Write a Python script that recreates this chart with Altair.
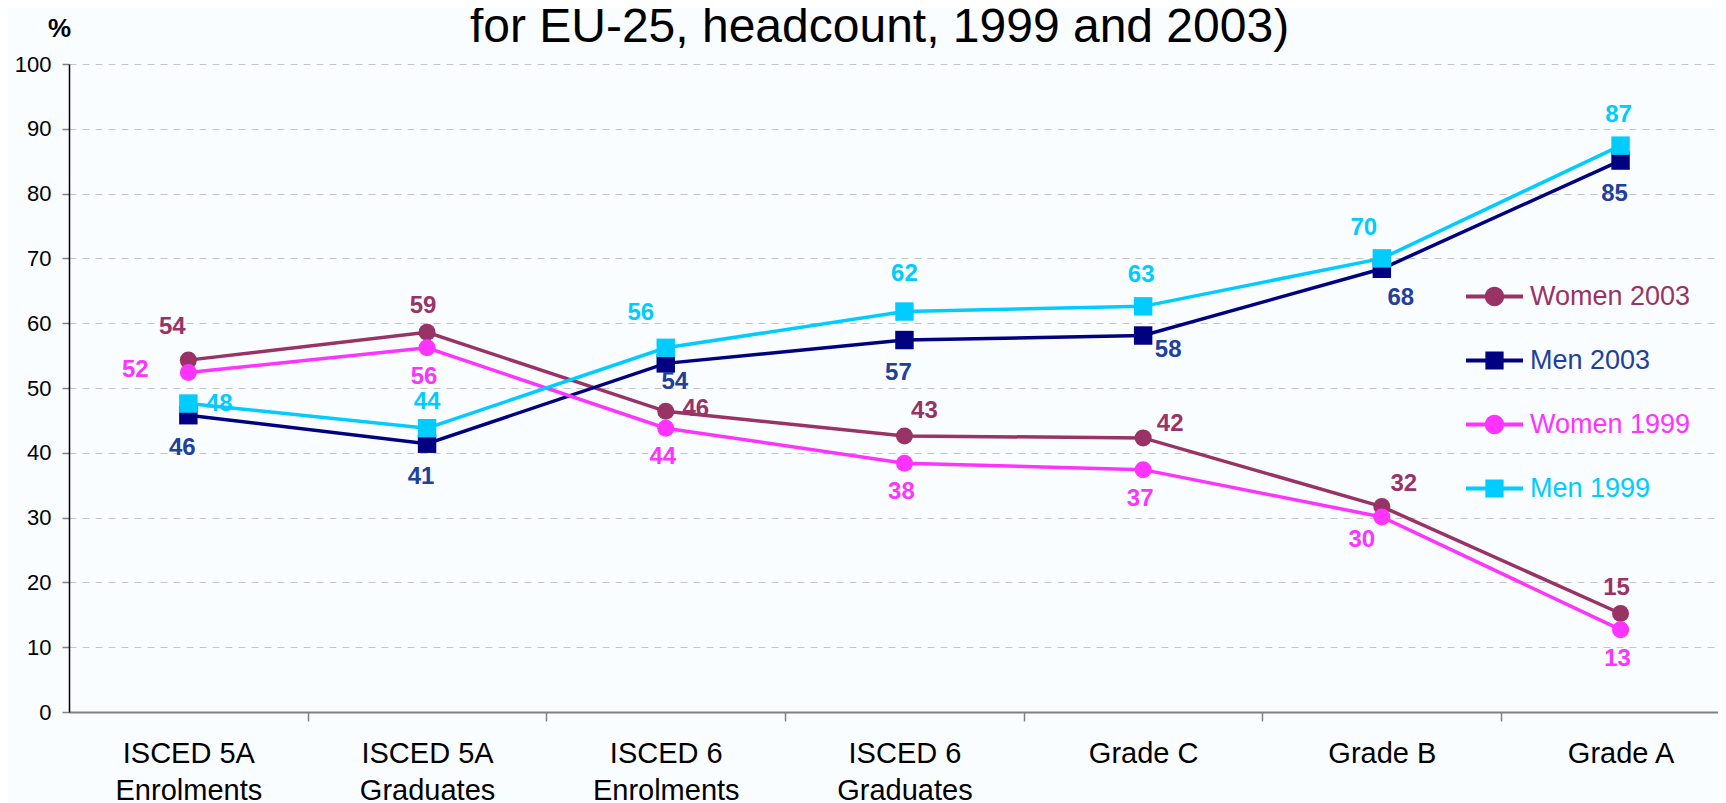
import altair as alt
import pandas as pd

# ---------------- data ----------------
categories = ["ISCED 5A\nEnrolments", "ISCED 5A\nGraduates", "ISCED 6\nEnrolments",
              "ISCED 6\nGraduates", "Grade C", "Grade B", "Grade A"]
series_names = ["Women 2003", "Men 2003", "Women 1999", "Men 1999"]
women_2003 = [54.3, 58.6, 46.4, 42.6, 42.3, 31.7, 15.2]
men_2003 = [45.8, 41.4, 53.8, 57.4, 58.1, 68.4, 85.1]
women_1999 = [52.4, 56.2, 43.8, 38.4, 37.4, 30.1, 12.7]
men_1999 = [47.6, 43.8, 56.2, 61.8, 62.6, 70.0, 87.4]
y_ticks = [0, 10, 20, 30, 40, 50, 60, 70, 80, 90, 100]

values_by_series = {
    "Women 2003": women_2003,
    "Men 2003": men_2003,
    "Women 1999": women_1999,
    "Men 1999": men_1999,
}
rows = []
for s in series_names:
    for i, (c, v) in enumerate(zip(categories, values_by_series[s])):
        rows.append({"category": c, "idx": i, "series": s, "value": v})
df = pd.DataFrame(rows)

# ---------------- style ----------------
FONT = "Liberation Sans"
line_colors = {"Women 2003": "#993366", "Men 2003": "#000080",
               "Women 1999": "#FF33FF", "Men 1999": "#00CCFF"}
text_colors = {"Women 2003": "#993366", "Men 2003": "#22409A",
               "Women 1999": "#FF33FF", "Men 1999": "#00CCFF"}
marker = {"Women 2003": "circle", "Men 2003": "square",
          "Women 1999": "circle", "Men 1999": "square"}

# legend symbols: a line with a marker in the middle (unit box -1..1)
LINE_PATH = "M-1,-0.07L1,-0.07L1,0.07L-1,0.07Z"
CIRCLE_PATH = LINE_PATH + "M-0.34,0A0.34,0.34,0,1,1,0.34,0A0.34,0.34,0,1,1,-0.34,0Z"
SQUARE_PATH = LINE_PATH + "M-0.32,-0.32L0.32,-0.32L0.32,0.32L-0.32,0.32Z"
legend_paths = [CIRCLE_PATH if marker[s] == "circle" else SQUARE_PATH for s in series_names]

W, H = 1649, 648
n = len(categories)
step = 238.7
pad = (W / step - (n - 1)) / 2
align = (step / 2) / (W - (n - 1) * step)
half = step / 2

x_enc = alt.X(
    "category:N",
    scale=alt.Scale(type="point", domain=categories, padding=pad, align=align),
    axis=alt.Axis(
        title=None, labelAngle=0, labelExpr="split(datum.label, '\\n')",
        labelFontSize=29, labelLineHeight=37, labelPadding=18, labelLimit=400,
        labelColor="black", labelFont=FONT, labelBaseline="top",
        tickSize=9, tickColor="#808080", tickWidth=1.5,
        domainColor="#808080", domainWidth=2,
        tickOffset=half, labelOffset=-half, grid=False,
    ),
)
y_enc = alt.Y(
    "value:Q",
    scale=alt.Scale(domain=[0, 100], nice=False),
    axis=alt.Axis(
        values=y_ticks, grid=True, gridDash=[7, 6], gridColor="#C4C4C4", gridWidth=1,
        domainColor="black", domainWidth=1.5,
        tickColor="#808080", tickSize=7, tickWidth=1.5,
        labelFontSize=22, labelColor="black", labelPadding=11, labelFont=FONT,
        title="%", titleAngle=0, titleX=-10, titleY=-36, titleAlign="center",
        titleBaseline="middle", titleFontSize=26, titleFontWeight="bold",
        titleFont=FONT, titleColor="black",
    ),
)

base = alt.Chart(df)
layers = []
for s in series_names:
    sub = base.transform_filter(alt.datum.series == s)
    layers.append(sub.mark_line(color=line_colors[s], strokeWidth=3.5).encode(x=x_enc, y=y_enc))
    if marker[s] == "circle":
        layers.append(sub.mark_circle(color=line_colors[s], size=290, opacity=1).encode(x=x_enc, y=y_enc))
    else:
        layers.append(sub.mark_square(color=line_colors[s], size=340, opacity=1).encode(x=x_enc, y=y_enc))

# data labels: default offset per series, plus some hand placements
label_default = {"Women 2003": (-4, -26), "Men 2003": (-6, 33),
                 "Women 1999": (-3, 29), "Men 1999": (-2, -31)}
label_special = {
    ("Women 2003", 0): (-16, -33), ("Women 2003", 2): (30, -2),
    ("Women 2003", 3): (20, -25), ("Women 2003", 4): (27, -14),
    ("Women 2003", 5): (22, -23),
    ("Men 2003", 2): (9, 19), ("Men 2003", 4): (25, 14), ("Men 2003", 5): (19, 29),
    ("Women 1999", 0): (-53, -2), ("Women 1999", 5): (-20, 23),
    ("Men 1999", 0): (31, 0), ("Men 1999", 1): (0, -26), ("Men 1999", 2): (-25, -35),
    ("Men 1999", 3): (0, -38), ("Men 1999", 5): (-18, -30),
}
text_enc = alt.Text("value:Q", format=".0f")
for s in series_names:
    special_idx = [i for (ss, i) in label_special if ss == s]
    dx, dy = label_default[s]
    cond = f"datum.series == '{s}'"
    if special_idx:
        cond += " && indexof(" + str(special_idx) + ", datum.idx) < 0"
    layers.append(
        base.transform_filter(cond).mark_text(
            font=FONT, fontSize=24, fontWeight="bold", color=text_colors[s],
            dx=dx, dy=dy, align="center", baseline="middle",
        ).encode(x=x_enc, y=y_enc, text=text_enc)
    )
    for i in special_idx:
        sdx, sdy = label_special[(s, i)]
        layers.append(
            base.transform_filter(f"datum.series == '{s}' && datum.idx == {i}").mark_text(
                font=FONT, fontSize=24, fontWeight="bold", color=text_colors[s],
                dx=sdx, dy=sdy, align="center", baseline="middle",
            ).encode(x=x_enc, y=y_enc, text=text_enc)
        )

# legend layer (no visible marks)
label_color_expr = " : ".join(
    [f"datum.value == '{s}' ? '{text_colors[s]}'" for s in series_names]
) + " : 'black'"
legend_cfg = dict(
    title=None, orient="none", legendX=1397, legendY=204, padding=0,
    symbolSize=3249, symbolStrokeWidth=0, symbolOpacity=1,
    labelFontSize=27, labelFont=FONT, labelOffset=7, rowPadding=22,
    labelColor={"expr": label_color_expr}, labelLimit=400,
)
legend_layer = base.transform_filter("false").mark_point(filled=True).encode(
    x=x_enc, y=y_enc,
    color=alt.Color("series:N", scale=alt.Scale(domain=series_names,
                    range=[line_colors[s] for s in series_names]),
                    legend=alt.Legend(**legend_cfg)),
    shape=alt.Shape("series:N", scale=alt.Scale(domain=series_names, range=legend_paths),
                    legend=alt.Legend(**legend_cfg)),
)
layers.append(legend_layer)

chart = alt.layer(*layers).properties(
    width=W, height=H,
    title=alt.TitleParams(
        text="for EU-25, headcount, 1999 and 2003)", fontSize=48, font=FONT,
        fontWeight="normal", color="black", anchor="middle", dx=-14, offset=-37,
        frame="group",
    ),
    autosize=alt.AutoSizeParams(type="none"),
    padding={"left": 61, "top": 56, "right": 0, "bottom": 92},
).configure(background="#FAFDFF").configure_view(stroke=None)

chart.save("out.html", embed_options={"renderer": "svg", "actions": False})
